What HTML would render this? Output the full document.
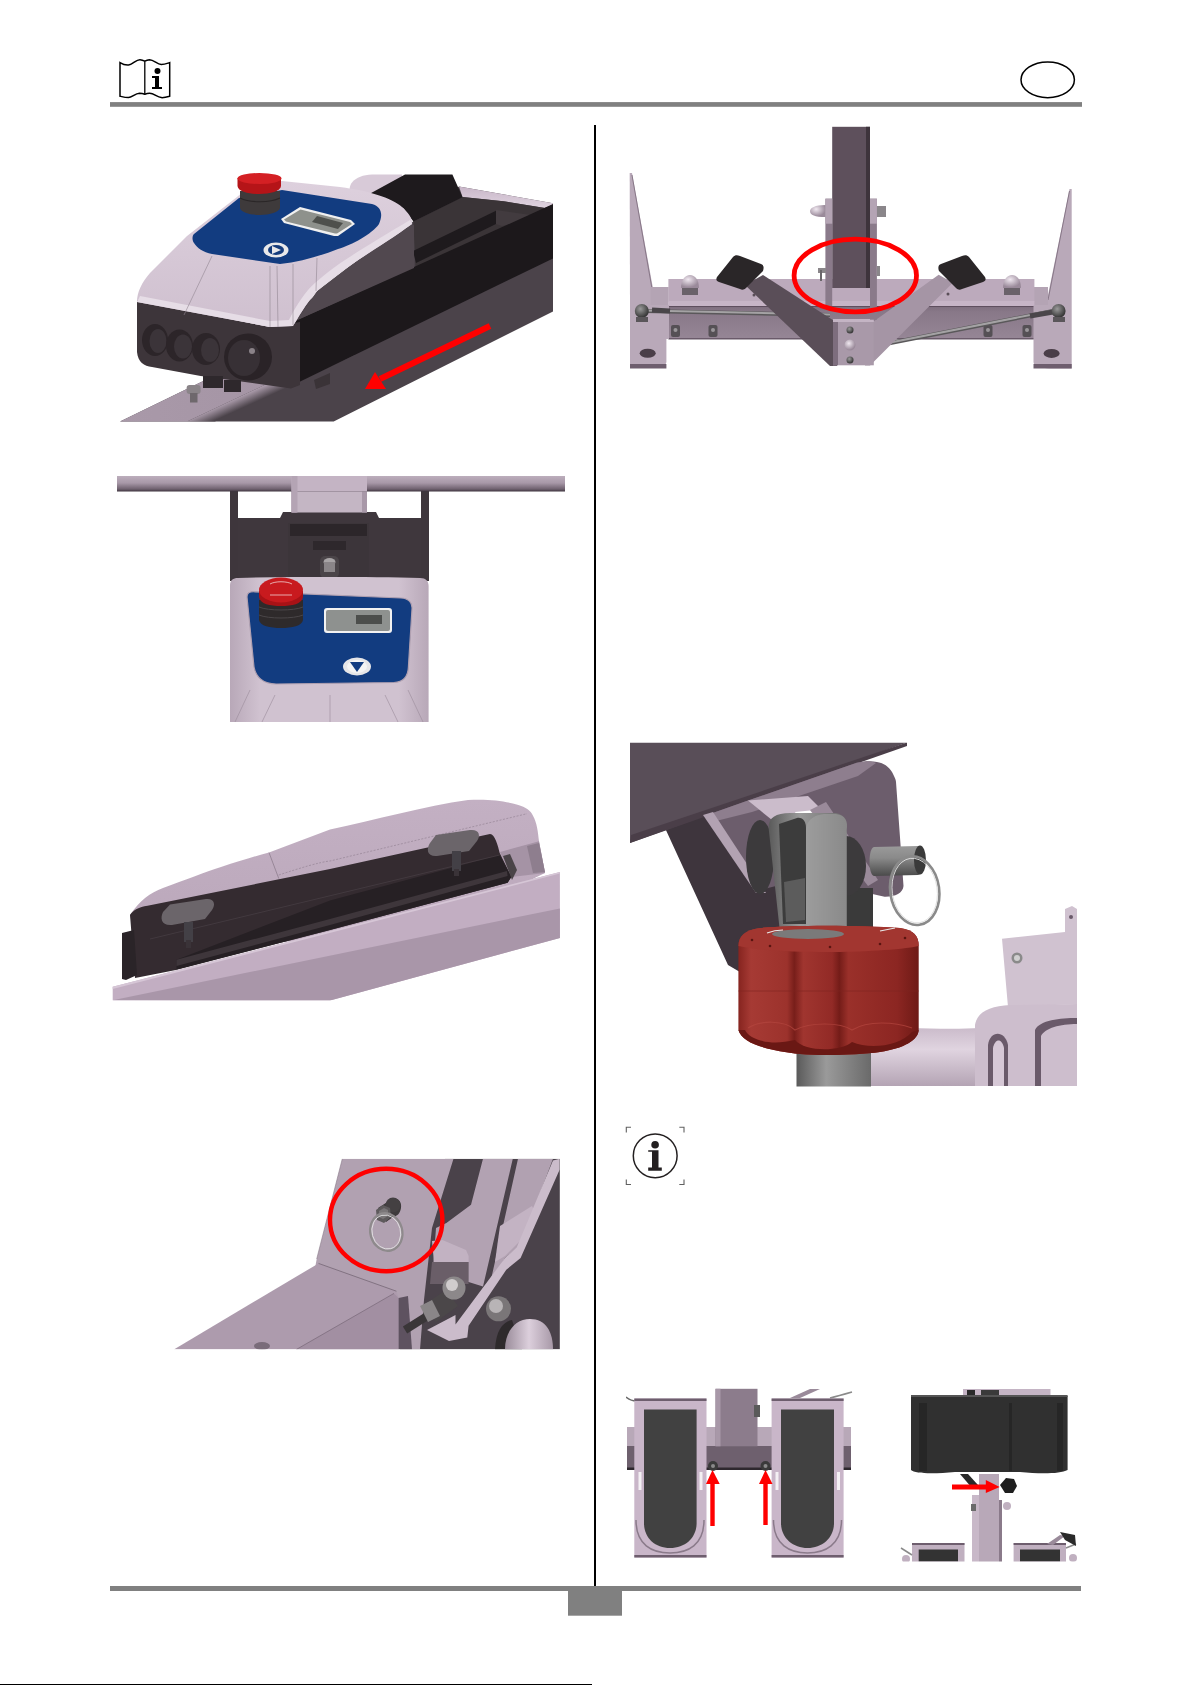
<!DOCTYPE html>
<html><head><meta charset="utf-8"><title>Manual page</title>
<style>
html,body{margin:0;padding:0;background:#fff;}
body{width:1191px;height:1685px;position:relative;overflow:hidden;font-family:"Liberation Sans",sans-serif;}
svg{position:absolute;left:0;top:0;}
</style></head>
<body>
<svg width="1191" height="1685" viewBox="0 0 1191 1685">
<!-- HEADER -->
<g id="header">
  <path d="M120,62.6 C123,64.5 126,65.2 128.5,65 C133,64.5 136,59.5 140,59.7 C142,59.8 143.5,60.5 144.8,61.2 C146,60.5 147.5,59.8 149.5,59.7 C154,59.7 157,64.5 161.3,64.6 C164,64.6 167,63.5 169.7,62.6 L169.7,96.2 C167,97 164,97.8 161.3,97.6 C157,97.4 154,93.2 149.5,93.3 C147.5,93.4 146,93.8 144.8,94.2 C143.5,93.8 142,93.4 139.5,93.3 C135,93.4 132,97.6 128.5,97.6 C125.5,97.6 122.5,96.8 120,96.2 Z" fill="none" stroke="#000" stroke-width="1.5"/>
  <path d="M144.8,61.2 L144.8,94.2" fill="none" stroke="#000" stroke-width="1.3"/>
  <circle cx="157.5" cy="71" r="3" fill="#000"/>
  <path d="M152,76 L159,76 L159,87 L162,87 L162,89 L152,89 L152,87 L155,87 L155,78 L152,78 Z" fill="#000"/>
  <rect x="110" y="102.1" width="972" height="4.7" fill="#808080"/>
  <ellipse cx="1047.7" cy="79.8" rx="26.7" ry="17.9" fill="none" stroke="#000" stroke-width="1.5"/>
</g>
<!-- IMAGE 1 -->
<g id="img1">
  <defs>
    <linearGradient id="g1top" x1="0" y1="0" x2="0" y2="1">
      <stop offset="0" stop-color="#ddd0dd"/><stop offset="1" stop-color="#cfc0cf"/>
    </linearGradient>
    <linearGradient id="g1rail" x1="120" y1="0" x2="360" y2="0" gradientUnits="userSpaceOnUse">
      <stop offset="0" stop-color="#a999a9"/><stop offset="0.6" stop-color="#a595a5"/><stop offset="1" stop-color="#8a7c8a"/>
    </linearGradient>
    <linearGradient id="g1edge" x1="200" y1="414" x2="205" y2="425" gradientUnits="userSpaceOnUse">
      <stop offset="0" stop-color="#b0a0b0"/><stop offset="1" stop-color="#4b434a"/>
    </linearGradient>
    <linearGradient id="g1strip" x1="0" y1="0" x2="0" y2="1">
      <stop offset="0" stop-color="#c8b6c8"/><stop offset="1" stop-color="#e0d4e0"/>
    </linearGradient>
  </defs>
  <!-- rail silhouette (front face dark) -->
  <polygon points="120,421.6 333.7,421.6 553,311.4 553,203.3 459,186.5 202.7,381.3" fill="#4b434a"/>
  <!-- rail top face bottom-left -->
  <polygon points="120,421.6 187,421.6 345,347 345,338 202.7,381.3" fill="url(#g1rail)"/>
  <polygon points="187,421.6 215,421.6 355,355 345,347" fill="url(#g1edge)"/>
  <!-- pink top strip of rail right -->
  <polygon points="459,186.5 553,203.3 553,205 545,208 503.4,201.3 462.5,197" fill="url(#g1strip)"/>
  <!-- cylinder behind -->
  <path d="M352,196 C345,186 354,175 372,174.5 L402,174.5 L402,197 Z" fill="#d8cad8"/>
  <!-- ledge mid-dark -->
  <polygon points="413.4,221.4 462.5,197 503.4,201.3 545,208 553,204.6 553,215 416,280" fill="#3a3437"/>
  <!-- slot interior black -->
  <polygon points="413,251 496,210.7 496,224 416,263" fill="#1e1a1d"/>
  <polygon points="496,210 529,214.7 534,218.7 502,226 496,224" fill="#423b3f"/>
  <!-- black top block -->
  <polygon points="362,198 405,174.5 452.4,174.5 462.5,197.2 413.4,221.4 403,208" fill="#1e1a1d"/>
  <!-- black band -->
  <polygon points="293,322 414,267 553,204 553,258.4 291,386" fill="#1c181b"/>
  <!-- housing side face -->
  <polygon points="293,326 317,291 351,265 405,226 414,225 414,268 293,322" fill="#51484f"/>
  <!-- dark base -->
  <path d="M137,300 L137,352 C138,362 144,366 152,367 L200.7,376 L291,388.4 L300,385 L300,322 L270,327 Z" fill="#3d353a"/>
  <!-- holes -->
  <ellipse cx="155" cy="340" rx="13" ry="16" fill="#2c2529"/>
  <ellipse cx="158" cy="341" rx="8.5" ry="12" fill="#3b3439"/>
  <ellipse cx="179.5" cy="345.5" rx="13.5" ry="16" fill="#2c2529"/>
  <ellipse cx="183" cy="346.5" rx="9" ry="12" fill="#3b3439"/>
  <ellipse cx="206" cy="349" rx="14" ry="16" fill="#2c2529"/>
  <ellipse cx="210" cy="350" rx="9" ry="12" fill="#3b3439"/>
  <ellipse cx="248" cy="357" rx="24" ry="23.6" fill="#2a2327"/>
  <ellipse cx="244" cy="358" rx="16" ry="18" fill="#373035"/>
  <circle cx="252" cy="351" r="3" fill="#8a8288"/>
  <!-- feet under base -->
  <rect x="203" y="376" width="20" height="12" fill="#2e282c"/>
  <rect x="224" y="380" width="17" height="12" fill="#2e282c"/>
  <polygon points="314,380 330,373 330,384 316,389" fill="#3a3337"/>
  <!-- bolt -->
  <rect x="186.6" y="385" width="14" height="9" rx="3" fill="#8a8488"/>
  <rect x="190" y="393" width="7.5" height="9.5" fill="#6e686c"/>
  <!-- housing pink -->
  <path d="M137,302 C137,292 142,282 150,273 L187,236 L237,197 C244,190 262,183 282,181 L340,187 C370,191 392,198 402,207 C409,213 413,220 412,224 C390,240 365,255 351,265 C335,276 322,287 317,291 C305,305 298,318 293,326 L270,327 Z" fill="url(#g1top)"/>
  <!-- housing front lighter rim -->
  <path d="M137,302 L270,327 L293,326 C298,318 305,305 317,291 C322,287 335,276 351,265 C365,255 390,240 412,224 L410,220 C388,233 360,250 345,260 C330,270 315,282 308,290 C298,302 292,314 289,320 L270,321 L140,296 Z" fill="#e6dde6"/>
  <line x1="212" y1="256" x2="184" y2="315" stroke="#928692" stroke-width="0.6"/>
  <line x1="270" y1="266" x2="270" y2="327" stroke="#928692" stroke-width="0.6"/>
  <line x1="277" y1="266" x2="278" y2="327" stroke="#928692" stroke-width="0.6"/>
  <line x1="293" y1="264" x2="293" y2="325" stroke="#928692" stroke-width="0.6"/>
  <line x1="317" y1="258" x2="316" y2="291" stroke="#928692" stroke-width="0.6"/>
  <!-- blue panel -->
  <path d="M194,234 L239,198 L282,190 L372,204 C382,207 383,215 379,224 C372,234 352,245 338,249 C320,256 300,262 280,264 L212,254 C203,252 197,248 194,243 C192,240 192,236 194,234 Z" fill="#123c80"/>
  <!-- LCD -->
  <polygon points="300,207 351,220 355,224 338,236 334,236 284,223 281,219" fill="#f0f0f0"/>
  <polygon points="300.5,209.5 350,222 352,224 337,233.5 335,233.5 286,221.5 284,219.5" fill="#8e918c"/>
  <polygon points="317,216 343,223 338,229 312,222" fill="#4e504c"/>
  <!-- start button -->
  <ellipse cx="276" cy="250" rx="12.5" ry="7.5" fill="#e9e9ea"/>
  <ellipse cx="276" cy="250" rx="8" ry="5" fill="#153c7c"/>
  <polygon points="272,246 281,250 272,254" fill="#e9e9ea"/>
  <!-- e-stop -->
  <path d="M240,191 L240,208 C241,213 252,215 260,215 C270,215 279,212 280,208 L280,191 Z" fill="#3e3a3b"/>
  <path d="M240,198 C250,203 270,203 280,198" fill="none" stroke="#2a2627" stroke-width="1.2"/>
  <path d="M237.5,178 L237.5,186 C238,192 250,194 259,194 C270,194 281,191 281,186 L281,178 Z" fill="#b51418"/>
  <ellipse cx="259.5" cy="178.5" rx="22" ry="5.5" fill="#d42024"/>
  <!-- arrow -->
  <line x1="490" y1="326" x2="380" y2="379" stroke="#ff0000" stroke-width="6"/>
  <polygon points="365,389 375,372 386,389" fill="#ff0000"/>
</g>
<!-- IMAGE 2 -->
<g id="img2">
  <defs>
    <linearGradient id="g2bar" x1="0" y1="0" x2="0" y2="1">
      <stop offset="0" stop-color="#bcaebc"/><stop offset="0.45" stop-color="#a898a8"/><stop offset="0.85" stop-color="#6e606e"/><stop offset="1" stop-color="#3e343e"/>
    </linearGradient>
    <linearGradient id="g2house" x1="0" y1="0" x2="1" y2="0">
      <stop offset="0" stop-color="#b8a8b8"/><stop offset="0.15" stop-color="#d0c2d0"/><stop offset="0.85" stop-color="#d0c2d0"/><stop offset="1" stop-color="#b8a8b8"/>
    </linearGradient>
  </defs>
  <!-- side arms -->
  <rect x="230" y="491" width="8" height="90" fill="#3e363c"/>
  <rect x="421" y="491" width="8" height="90" fill="#3e363c"/>
  <!-- back panel -->
  <path d="M237.5,518 L280,518 L283,512 L376,512 L379,518 L421,518 L421,581 L237.5,581 Z" fill="#3f373d"/>
  <rect x="288" y="523" width="81" height="56" fill="#3c353a"/>
  <rect x="290" y="524" width="77" height="12" fill="#2c262a"/>
  <rect x="313" y="541" width="33" height="9" fill="#2e282c"/>
  <!-- bolt -->
  <rect x="320" y="556" width="19" height="22" rx="5" fill="#4a4448"/>
  <ellipse cx="329.5" cy="562" rx="6" ry="4" fill="#a8a4a6"/>
  <rect x="324" y="562" width="11" height="10" fill="#8a8588"/>
  <!-- post -->
  <rect x="291.5" y="476" width="75.5" height="36.5" fill="#c4b6c4"/>
  <rect x="291.5" y="476" width="5" height="36.5" fill="#a898a8"/>
  <rect x="362" y="476" width="5" height="36.5" fill="#a898a8"/>
  <!-- bar -->
  <rect x="117" y="476" width="448" height="15.5" fill="url(#g2bar)"/>
  <rect x="291.5" y="476" width="75.5" height="15.5" fill="#c4b4c4"/><rect x="291.5" y="476" width="6" height="36.5" fill="#b4a4b4"/>
  <!-- housing -->
  <path d="M230,722 L230,586 C230,580 233,578 238,578 C270,577 300,577 330,577 C360,577 395,577 420,578 C426,578 428.6,581 428.6,586 L428.6,722 Z" fill="url(#g2house)"/>
  <line x1="250" y1="690" x2="235" y2="722" stroke="#9a8c9a" stroke-width="0.6"/>
  <line x1="275" y1="695" x2="262" y2="722" stroke="#9a8c9a" stroke-width="0.6"/>
  <line x1="330" y1="695" x2="330" y2="722" stroke="#9a8c9a" stroke-width="0.6"/>
  <line x1="385" y1="695" x2="398" y2="722" stroke="#9a8c9a" stroke-width="0.6"/>
  <line x1="408" y1="690" x2="423" y2="722" stroke="#9a8c9a" stroke-width="0.6"/>
  <!-- blue panel -->
  <path d="M247,597 C247,593 249,591.5 255,591.8 L401,598 C409,598.5 412.5,603 412,609 L408.4,667 C408,677 403,682 394,682.5 L276,684 C262,683.5 256,677 254,667 Z" fill="#123c80"/>
  <path d="M247,597 C247,593 249,591.5 255,591.8 L401,598 C409,598.5 412.5,603 412,609 L408.4,667 C408,677 403,682 394,682.5 L276,684 C262,683.5 256,677 254,667 Z" fill="none" stroke="#b0a0b0" stroke-width="1.2"/>
  <!-- LCD -->
  <rect x="324" y="608" width="68" height="25" rx="3" fill="#f2f2f2"/>
  <rect x="326" y="610" width="64" height="21" rx="2" fill="#8e918f"/>
  <rect x="356" y="615" width="26" height="9" fill="#4c4e4c"/>
  <!-- down button -->
  <ellipse cx="357" cy="666.5" rx="14" ry="9" fill="#e6e6e8"/>
  <ellipse cx="357" cy="666.5" rx="10" ry="6.5" fill="#f4f4f4"/>
  <polygon points="350,662 364,662 357,672" fill="#123c80"/>
  <!-- e-stop base -->
  <path d="M259,600 L259,620 C260,626 270,628 281,628 C292,628 302,626 303,620 L303,600 Z" fill="#2e2a2b"/>
  <path d="M259,607 C268,611 294,611 303,607" fill="none" stroke="#4a4648" stroke-width="1"/>
  <path d="M259,615 C268,619 294,619 303,615" fill="none" stroke="#4a4648" stroke-width="1"/>
  <!-- e-stop -->
  <path d="M259,591 L259,597 C260,604 270,606 281,606 C292,606 302,604 303,597 L303,591 Z" fill="#a81216"/>
  <ellipse cx="281" cy="590" rx="22" ry="12.5" fill="#c81a1e"/>
  <path d="M270,584 C275,581 287,581 292,584" fill="none" stroke="#f0d0d0" stroke-width="0.8"/>
  <path d="M270,595 L292,595" fill="none" stroke="#f0d0d0" stroke-width="0.8"/>
</g>
<!-- IMAGE 3 -->
<g id="img3">
  <defs>
    <linearGradient id="g3house" x1="0" y1="0" x2="0" y2="1">
      <stop offset="0" stop-color="#c3b0c3"/><stop offset="1" stop-color="#b9a6b9"/>
    </linearGradient>
    <clipPath id="c3"><rect x="110" y="795" width="451" height="205.5"/></clipPath>
  </defs>
  <g clip-path="url(#c3)">
  <!-- housing top (pink) -->
  <path d="M130,915 C140,900 150,893 163,888 C185,880 205,872 221,867 C240,861 255,856 269,852.6 L330,829.5 C375,820 425,806 468,800 C490,799 505,801 517.5,804.8 C526,807 531,811 533,815.7 C537,823 538,832 539,841.3 L545,872.9 L500,895 L300,940 L140,960 Z" fill="url(#g3house)"/>
  <path d="M269,852.6 L278.8,878.6" stroke="#8e7e8e" stroke-width="0.8"/>
  <path d="M278.8,875 C300,868 320,862 330,861 L527,813.7" fill="none" stroke="#8e7e8e" stroke-width="0.6" stroke-dasharray="2,1.5"/>
  <!-- right side of housing -->
  <polygon points="500,852 539,841.3 545,872.9 511.5,877" fill="#a593a5"/>
  <polygon points="527,846 539,843 545,872 533,873" fill="#8e7e8e"/>
  <!-- dark battery box -->
  <path d="M130,915 C133,910 139,907 147.5,905.7 L330,869 L428.7,847.2 L490,834 C495,834 498,846 499.7,853 L511.5,876.8 L507.6,882.7 L330,930 L176,970 L135,978 Z" fill="#342b30"/>
  <polygon points="176.5,959.7 330,900.5 499.7,855 507.6,870 511.5,876.8 507.6,882.7 330,930 176.5,969.4" fill="#262024"/>
  <polygon points="176.5,959.7 330,919 507,871 507.6,876 330,925 176.5,966" fill="#3e363b"/>
  <line x1="150" y1="939" x2="499.7" y2="855" stroke="#443b41" stroke-width="0.9"/>
  <!-- end caps -->
  <polygon points="122,933 134,930 137,975 126,980 122,979" fill="#2a2428"/>
  <polygon points="503,856 510,854 517,870 512,880" fill="#4a4448"/>
  <!-- pads -->
  <path d="M170,904.5 L206,899 C214,898 216,904 212,910 L205,919 L172,925 C161,926 160,918 163,912 Z" fill="#6b656a"/>
  <rect x="184" y="922" width="9" height="20" fill="#434046"/>
  <rect x="186" y="940" width="5" height="8" fill="#3a3338"/>
  <path d="M436,835 L470,830 C479,829 481,835 477,841 L469,851 L437,856 C427,857 426,849 430,843 Z" fill="#6b656a"/>
  <rect x="452" y="851" width="9" height="20" fill="#434046"/>
  <rect x="454" y="869" width="5" height="7" fill="#3a3338"/>
  <!-- rail -->
  <polygon points="112.7,986.8 559.9,871.9 559.9,938 330,1000.5 112.7,1000.5" fill="#c2aec2"/>
  <polygon points="112.7,1000.3 559.9,908.4 559.9,938 330,1000.5" fill="#a996a9"/>
  <polygon points="112.7,986.8 559.9,871.9 559.9,873.5 112.7,989" fill="#d6c6d6"/>
  </g>
</g>
<!-- IMAGE 4 -->
<g id="img4">
  <defs>
    <clipPath id="c4"><rect x="170" y="1158.8" width="389.8" height="190.5"/></clipPath>
    <linearGradient id="g4cap" x1="0" y1="0" x2="1" y2="0">
      <stop offset="0" stop-color="#9a8c9a"/><stop offset="0.5" stop-color="#dccfdc"/><stop offset="1" stop-color="#a899a8"/>
    </linearGradient>
  </defs>
  <g clip-path="url(#c4)">
  <!-- dark background right -->
  <polygon points="445,1158.8 560,1158.8 560,1349.5 400,1349.5 415,1260" fill="#4a424a"/>
  <!-- plate (pink) -->
  <polygon points="342.3,1158.8 453.5,1158.8 432,1228 424,1300 420,1349.5 300,1349.5 316.7,1259" fill="#b1a1b1"/>
  <!-- pink Y region -->
  <polygon points="483,1158.8 512.8,1158.8 483,1286.6 468.6,1282 432,1282 436,1228 446.4,1222.9 471,1204.7" fill="#b2a2b2"/>
  <!-- pink right region -->
  <polygon points="518,1158.8 553,1158.8 520.6,1245 505,1258 490,1284" fill="#b1a1b1"/>
  <polygon points="500,1226 532,1206 535,1212 521,1240 505,1256 495,1262 498,1240" fill="#c3b3c3"/>
  <!-- tube block lower-left -->
  <polygon points="432,1241 442.5,1240 466,1250 468.6,1256 468.6,1262 434,1262" fill="#c2b2c2"/>
  <polygon points="432,1262 468.6,1262 468.6,1284 430,1284" fill="#6a5e68"/>
  <!-- rail top face -->
  <polygon points="173.9,1349.5 318.5,1263.4 396.4,1291.2 398.6,1297.9 398.6,1349.5" fill="#ad9bad"/>
  <polygon points="296.3,1349.5 394,1293.4 398.6,1297.9 398.6,1349.5" fill="#a28fa2"/>
  <polygon points="398.6,1297.9 408,1296 412,1349.5 398.6,1349.5" fill="#5e5260"/>
  <line x1="318.5" y1="1263.4" x2="396.4" y2="1291.2" stroke="#6e606e" stroke-width="0.7"/>
  <line x1="296.3" y1="1349.5" x2="394" y2="1293.4" stroke="#6e606e" stroke-width="0.6"/>
  <line x1="316.7" y1="1259" x2="342.3" y2="1158.8" stroke="#8a7a8a" stroke-width="0.6"/>
  <ellipse cx="262" cy="1346" rx="8" ry="4" fill="#7a6c7a"/>
  <!-- diagonal pink arm -->
  <polygon points="553,1160.4 559.7,1158.8 559.7,1169.5 520.6,1258 506.3,1269.7 468.6,1325.7 467.3,1337.4 449,1341 427,1330 455.5,1315 455.5,1324.4 505,1258 516.7,1247.6" fill="#cbbccb"/>
  <!-- ball joint and rod -->
  <line x1="405" y1="1330" x2="432" y2="1313" stroke="#3a3638" stroke-width="8"/>
  <polygon points="422,1306 446,1290 458,1306 436,1322" fill="#4b4749"/>
  <polygon points="420,1306 432,1300 440,1316 428,1322" fill="#8a8688"/>
  <circle cx="454" cy="1288" r="11.5" fill="#8c888a"/>
  <circle cx="452" cy="1285" r="6" fill="#d0cccd"/>
  <!-- nut + cap right -->
  <circle cx="498.5" cy="1308.8" r="12.5" fill="#7a7678"/>
  <circle cx="496" cy="1306" r="7" fill="#b8b4b6"/>
  <path d="M495,1349.5 C496,1330 503,1322 512,1320 L522,1349.5 Z" fill="#2e2a2c"/>
  <path d="M505,1349.5 C505,1332 515,1319 530,1319 C546,1319 553,1332 553,1349.5 Z" fill="url(#g4cap)"/>
  <!-- pin -->
  <path d="M378,1208 L392,1199 C398,1197 402,1202 401,1208 C400,1214 397,1216 393,1217 L386,1222 Z" fill="#3e3a3c"/>
  <circle cx="393" cy="1205" r="7.5" fill="#444042"/>
  <polygon points="376,1210 383,1205 390,1208 391,1217 384,1223 377,1220" fill="#5e5a5c"/>
  <polygon points="379,1211 384,1208 388,1210 388,1216 383,1219 379,1217" fill="#7a7678"/>
  <ellipse cx="386.3" cy="1232" rx="16" ry="19" transform="rotate(-15 386.3 1232)" fill="none" stroke="#8e8a8c" stroke-width="2.2"/>
  <ellipse cx="386.3" cy="1232" rx="14.2" ry="17.2" transform="rotate(-15 386.3 1232)" fill="none" stroke="#e0dee0" stroke-width="0.9"/>
  </g>
  <!-- red circle -->
  <ellipse cx="386.2" cy="1220" rx="56.2" ry="51.2" fill="none" stroke="#ff0000" stroke-width="4.4"/>
</g>
<!-- IMAGE 5 -->
<g id="img5">
  <defs>
    <linearGradient id="g5front" x1="0" y1="0" x2="0" y2="1">
      <stop offset="0" stop-color="#7e6e7e"/><stop offset="0.15" stop-color="#887888"/><stop offset="1" stop-color="#968696"/>
    </linearGradient>
    <radialGradient id="g5ball" cx="0.4" cy="0.35" r="0.6">
      <stop offset="0" stop-color="#f0e8f0"/><stop offset="1" stop-color="#9a8a9a"/>
    </radialGradient>
    <radialGradient id="g5gball" cx="0.4" cy="0.35" r="0.6">
      <stop offset="0" stop-color="#9a9a9a"/><stop offset="1" stop-color="#3a3a3a"/>
    </radialGradient>
  </defs>
  <!-- legs blades -->
  <polygon points="629.7,173 632,173 656,305 630,305" fill="#b9a9b9"/>
  <polygon points="1071.7,189 1069.5,189 1046,305 1071.7,305" fill="#b9a9b9"/>
  <line x1="632" y1="175" x2="654" y2="300" stroke="#7a6a7a" stroke-width="0.8"/>
  <line x1="1069.5" y1="191" x2="1048" y2="300" stroke="#7a6a7a" stroke-width="0.8"/>
  <!-- end caps -->
  <rect x="650.7" y="287" width="18" height="18" fill="#b4a4b4"/>
  <rect x="1033" y="287" width="15" height="18" fill="#b4a4b4"/>
  <!-- bar -->
  <rect x="668.4" y="279" width="366" height="23" fill="#bcaabc"/>
  <rect x="668.4" y="301" width="366" height="5" fill="#c6b4c6"/>
  <rect x="668.4" y="306" width="366" height="1.2" fill="#5e4e5e"/>
  <rect x="668.4" y="307" width="366" height="31.5" fill="url(#g5front)"/>
  <rect x="668.4" y="338" width="366" height="1.5" fill="#6a5a6a"/>
  <!-- foot plates -->
  <path d="M630,305 L669,305 L669,339 L666.4,339 L666.4,362 C666,366 660,368 650,368 L630,368 Z" fill="#b9a9b9"/>
  <rect x="630" y="364" width="36.4" height="4.5" fill="#6e5e6e"/>
  <ellipse cx="647.7" cy="353.3" rx="8" ry="4.5" fill="#4a3e48"/>
  <path d="M1033.5,305 L1071.7,305 L1071.7,368.5 L1050,368.5 C1040,368 1033.5,366 1033.5,362 Z" fill="#b9a9b9"/>
  <rect x="1033.5" y="364" width="38.2" height="4.5" fill="#6e5e6e"/>
  <ellipse cx="1051.6" cy="353.4" rx="8" ry="4.5" fill="#4a3e48"/>
  <!-- bolts on bar front -->
  <g fill="#555055">
    <rect x="671" y="325" width="9" height="12" rx="2"/><rect x="708.5" y="325" width="9" height="12" rx="2"/>
    <rect x="983.5" y="325" width="9" height="12" rx="2"/><rect x="1022.5" y="325" width="9" height="12" rx="2"/>
  </g>
  <g fill="#9a969a">
    <circle cx="675.5" cy="330" r="2"/><circle cx="713" cy="330" r="2"/><circle cx="988" cy="330" r="2"/><circle cx="1027" cy="330" r="2"/>
  </g>
  <!-- rods -->
  <line x1="645" y1="311" x2="830" y2="315" stroke="#5a585a" stroke-width="4"/><line x1="645" y1="310.5" x2="830" y2="314.5" stroke="#a4a2a4" stroke-width="2"/>
  <line x1="652" y1="310" x2="670" y2="311" stroke="#4a464a" stroke-width="5"/>
  <line x1="1058" y1="310" x2="870" y2="347" stroke="#5a585a" stroke-width="4"/><line x1="1058" y1="309.5" x2="870" y2="346.5" stroke="#a4a2a4" stroke-width="2"/>
  <line x1="1053" y1="312" x2="1030" y2="316" stroke="#4a464a" stroke-width="5"/>
  <circle cx="641.8" cy="311" r="7" fill="url(#g5gball)"/>
  <circle cx="1058.6" cy="311" r="7" fill="url(#g5gball)"/>
  <rect x="636" y="317" width="12" height="5" fill="#5a565a"/>
  <rect x="1053" y="317" width="12" height="5" fill="#5a565a"/>
  <!-- acorn nuts -->
  <path d="M681,288 C681,280 685,275 690,275 C695,275 699,280 699,288 Z" fill="url(#g5ball)"/>
  <rect x="682" y="288" width="16" height="7" fill="#6a626a"/>
  <path d="M1003,288 C1003,280 1007,275 1012,275 C1017,275 1021,280 1021,288 Z" fill="url(#g5ball)"/>
  <rect x="1004" y="288" width="16" height="7" fill="#6a626a"/>
  <circle cx="754" cy="295" r="1.5" fill="#5a4e58"/><circle cx="948" cy="294" r="1.5" fill="#5a4e58"/>
  <!-- V arms -->
  <polygon points="745,285 763,275 837,322.7 837,366 830,366" fill="#5a4e58"/>
  <polygon points="938.7,274.8 952.8,282.8 870,365.5 865,365.5 865,321 874.3,321" fill="#a595a5"/>
  <!-- center block -->
  <rect x="833" y="321.3" width="40.8" height="44" fill="#a999a9"/>
  <rect x="833" y="321.3" width="5" height="44" fill="#7e6e7e"/>
  <rect x="833" y="319" width="40.8" height="3" fill="#c4b4c4"/>
  <circle cx="850" cy="330" r="3.5" fill="url(#g5gball)"/>
  <circle cx="850" cy="345" r="5.5" fill="url(#g5ball)"/>
  <circle cx="850" cy="360" r="3.5" fill="url(#g5gball)"/>
  <!-- pedals -->
  <path d="M717,277 L733,257 C735,255 737,255 740,256 L761,264 C764,265 764,268 763,271 L746,288 C744,290 742,290 740,289 L719,282 C716,281 716,279 717,277 Z" fill="#2a2628"/>
  <path d="M985,277 L969,257 C967,255 965,255 962,256 L941,264 C938,265 938,268 939,271 L956,288 C958,290 960,290 962,289 L983,282 C986,281 986,279 985,277 Z" fill="#2a2628"/>
  <!-- post -->
  <rect x="832.2" y="126.8" width="37.8" height="161.2" fill="#5e505c"/>
  <rect x="866" y="126.8" width="4" height="161.2" fill="#3e343c"/>
  <!-- brackets -->
  <rect x="825.4" y="198.7" width="6.8" height="107.5" fill="#8a7a8a"/>
  <rect x="825.4" y="198.7" width="6.8" height="25" fill="#b4a4b4"/>
  <rect x="870" y="198.7" width="6.9" height="121" fill="#8a7a8a"/>
  <rect x="870" y="198.7" width="6.9" height="25" fill="#b4a4b4"/>
  <path d="M825.4,205 C815,205 810,208 810,211 C810,215 815,217 825.4,217 Z" fill="url(#g5ball)"/>
  <rect x="877" y="206" width="9" height="11" fill="#8a868a"/>
  <rect x="818" y="268" width="8" height="5" fill="#8a868a"/>
  <rect x="820" y="270" width="2" height="11" fill="#6a666a"/>
  <rect x="877" y="266" width="3" height="10" fill="#8a868a"/>
  <!-- red ellipse -->
  <ellipse cx="855.3" cy="275.5" rx="61.2" ry="36.3" fill="none" stroke="#ff0000" stroke-width="4.8"/>
</g>
<!-- IMAGE 6 -->
<g id="img6">
  <defs>
    <clipPath id="c6"><rect x="630" y="742.5" width="447" height="344"/></clipPath>
    <linearGradient id="g6knob" x1="0" y1="0" x2="1" y2="0">
      <stop offset="0" stop-color="#86241f"/><stop offset="0.07" stop-color="#a63a34"/><stop offset="0.27" stop-color="#9c322c"/><stop offset="0.31" stop-color="#781e1a"/><stop offset="0.36" stop-color="#a0352f"/><stop offset="0.52" stop-color="#922a26"/><stop offset="0.56" stop-color="#741c18"/><stop offset="0.61" stop-color="#9a302a"/><stop offset="0.88" stop-color="#8c2622"/><stop offset="1" stop-color="#6e1a16"/>
    </linearGradient>
    <linearGradient id="g6gray" x1="0" y1="0" x2="1" y2="0">
      <stop offset="0" stop-color="#5a5a5a"/><stop offset="0.4" stop-color="#9a9a9a"/><stop offset="1" stop-color="#6a6a6a"/>
    </linearGradient>
    <linearGradient id="g6tube" x1="0" y1="0" x2="0" y2="1">
      <stop offset="0" stop-color="#c8b8c8"/><stop offset="0.4" stop-color="#e0d4e0"/><stop offset="1" stop-color="#b4a4b4"/>
    </linearGradient>
    <linearGradient id="g6pin" x1="0" y1="0" x2="0" y2="1">
      <stop offset="0" stop-color="#9a9a9a"/><stop offset="0.4" stop-color="#8a8a8a"/><stop offset="1" stop-color="#4a4a4a"/>
    </linearGradient>
  </defs>
  <g clip-path="url(#c6)">
  <!-- dark under-bracket -->
  <polygon points="665,828 705.6,815.6 750,870 780,870 790,941 745,975 728,965" fill="#3e353d"/>
  <!-- top plate -->
  <polygon points="630,742.5 907,742.5 630,843" fill="#594e58"/>
  <polygon points="630,843 631,835 907,742.5 907,746" fill="#4a3e48"/>
  <!-- bracket side face -->
  <path d="M705.6,815.6 L748,800.5 L856.7,762.7 C870,760 885,760 892,772 C895,778 896,780 896,782 L903.5,886 C903,893 895,897 884.6,896.8 L859,891 L800,880 L756,891 Z" fill="#6c5d6c"/>
  <!-- bracket light edges -->
  <path d="M705.6,815.6 L748,800.5 L856.7,762.7 C866,761 872,761 876,763 L858,776 L752,812 L712,822 Z" fill="#8e7e8e"/>
  <rect x="846" y="888" width="27" height="54" fill="#3a3a3a"/>
  <polygon points="703,815 713,812 766,893 756,893" fill="#b2a2b2"/>
  <polygon points="748,800.5 808,796 822,810 772,820" fill="#cbbccb"/>
  <polygon points="795,812 815,810 822,825 800,822" fill="#ffffff"/>
  <polygon points="810,810 826,802 878,880 868,886" fill="#9a8a9a"/>
  <!-- bushings -->
  <ellipse cx="760" cy="857" rx="14" ry="37" fill="#3c3a3c"/>
  <ellipse cx="846" cy="866" rx="20" ry="30" fill="#3c3a3c"/>
  <!-- clevis -->
  <path d="M768.6,828 C768,818 776,813 790,813 L836,813 C846,815 848,822 846.7,830 L846.7,941.5 L781,941.5 Z" fill="url(#g6gray)"/>
  <path d="M779,824 L797,818 C803,817 806,822 806,828 L806,924 L783,924 Z" fill="#3c3c3c"/>
  <path d="M784,882 L805,878 L805,920 L786,922 Z" fill="#5c5c5c"/>
  <path d="M806,830 C806,822 812,815 824,814 L836,814 C846,815 848,822 846.7,830 L846.7,941.5 L806,941.5 Z" fill="#a4a4a4" opacity="0.55"/>
  <!-- post -->
  <rect x="796.5" y="1050" width="74.5" height="40" fill="url(#g6gray)"/>
  <!-- tube -->
  <path d="M871,1025 C900,1028 950,1030 980,1028 L1077,1026 L1077,1086 L871,1086 Z" fill="url(#g6tube)"/>
  <!-- bracket plate right -->
  <polygon points="1002,938.7 1065,932 1065,909 1072,906 1077,909 1077,1004 1008,1007" fill="#d0c2d0"/>
  <circle cx="1017" cy="958" r="5.5" fill="#8a8a8a"/><circle cx="1017" cy="958" r="3" fill="#d0d0d0"/>
  <circle cx="1071" cy="917" r="2" fill="#6a5a6a"/>
  <!-- clamp -->
  <path d="M975,1086 L975,1025 C977,1012 990,1006 1010,1005 L1077,1004 L1077,1086 Z" fill="#cdbecd"/>
  <path d="M988,1086 L988,1045 C990,1030 1005,1030 1008,1045 L1008,1086 Z" fill="#6a5a6a"/>
  <path d="M993,1086 L993,1048 C995,1038 1002,1038 1004,1048 L1004,1086 Z" fill="#d6c8d6"/>
  <path d="M1035,1086 L1035,1030 C1040,1020 1060,1018 1077,1018 L1077,1024 C1060,1024 1045,1028 1041,1036 L1041,1086 Z" fill="#6a5a6a"/>
  <!-- knob -->
  <path d="M738.4,946 C738.4,936 745,930 760,928 C790,925 860,925 900,928 C914,930 918.7,936 918.7,946 L918.7,1030 C918,1040 905,1048 880,1052 C860,1055 820,1056 800,1054 C770,1051 742,1044 738.4,1030 Z" fill="url(#g6knob)"/>
  <path d="M738.4,946 C738.4,936 745,930 760,928 C790,925 860,925 900,928 C914,930 918.7,936 918.7,946 C900,950 860,952 828,952 C790,952 755,950 738.4,946 Z" fill="#a23630"/>
  <ellipse cx="808" cy="934" rx="36" ry="5" fill="#7a7a7a"/>
  <path d="M745,1030 C750,1040 770,1046 795,1040 C805,1052 840,1052 852,1042 C870,1050 900,1046 912,1032 L918.7,1030 C918,1040 905,1048 880,1052 C860,1055 820,1056 800,1054 C770,1051 742,1044 738.4,1030 Z" fill="#6a1814"/>
  <path d="M748,1028 C760,1020 785,1020 795,1030 C810,1022 840,1022 852,1030 C868,1020 895,1022 912,1028" fill="none" stroke="#b4463e" stroke-width="1.2" opacity="0.7"/>
  <line x1="738.4" y1="991" x2="918.7" y2="991" stroke="#7e2420" stroke-width="1" opacity="0.6"/>
  <circle cx="752" cy="940" r="1.3" fill="#5a1410"/><circle cx="770" cy="946" r="1.3" fill="#5a1410"/><circle cx="830" cy="947" r="1.3" fill="#5a1410"/><circle cx="880" cy="944" r="1.3" fill="#5a1410"/><circle cx="905" cy="938" r="1.3" fill="#5a1410"/>
  <path d="M767,933 C772,931 778,930 783,930" stroke="#e8e8e8" stroke-width="1.2" fill="none"/>
  <path d="M880,931 C885,930 890,929 895,928" stroke="#e8e8e8" stroke-width="1.2" fill="none"/>
  <!-- pin and ring -->
  <path d="M874,847 L918,846 C925,847 926,874 918,875 L874,876 C868,875 868,848 874,847 Z" fill="url(#g6pin)"/>
  <ellipse cx="920" cy="860" rx="6" ry="14.5" fill="#3a3a3a"/>
  <ellipse cx="914.7" cy="890.6" rx="24.5" ry="34.5" transform="rotate(-8 914.7 890.6)" fill="none" stroke="#8a8a8a" stroke-width="2.6"/>
  <ellipse cx="914.7" cy="890.6" rx="22.5" ry="32.5" transform="rotate(-8 914.7 890.6)" fill="none" stroke="#dcdcdc" stroke-width="0.9"/>
  </g>
</g>
<!-- IMAGE 7 info icon -->
<g id="img7">
  <path d="M626.3,1132.5 L626.3,1127.3 L631,1127.3 M679.3,1127.3 L684,1127.3 L684,1132.5 M626.3,1179.5 L626.3,1184.5 L631,1184.5 M679.3,1184.5 L684,1184.5 L684,1179.5" fill="none" stroke="#606060" stroke-width="1.1"/>
  <circle cx="655.2" cy="1155.8" r="21.9" fill="none" stroke="#231f20" stroke-width="1.5"/>
  <circle cx="655.1" cy="1144.8" r="3.8" fill="#231f20"/>
  <path d="M648.2,1150.3 L658.5,1150.3 L658.5,1167.6 L661.8,1167.6 L661.8,1170.7 L648.2,1170.7 L648.2,1167.6 L652,1167.6 L652,1151.8 L648.2,1151.8 Z" fill="#231f20"/>
</g>
<!-- IMAGE 8 left (foot plates) -->
<g id="img8a">
  <defs>
    <clipPath id="c8a"><rect x="626" y="1388" width="234" height="172"/></clipPath>
  </defs>
  <g clip-path="url(#c8a)">
  <!-- crossbar -->
  <rect x="627" y="1427" width="224" height="20" fill="#b8a8b8"/>
  <rect x="627" y="1446" width="224" height="24" fill="#6e606e"/>
  <rect x="627" y="1467.5" width="224" height="2.5" fill="#2e282e"/>
  <!-- post -->
  <rect x="715.5" y="1388.8" width="42" height="57.5" fill="#8c7c8c"/>
  <rect x="715.5" y="1388.8" width="5" height="57.5" fill="#a898a8"/>
  <rect x="754" y="1405" width="6" height="12" fill="#5a5a5a"/>
  <!-- cables top -->
  <path d="M626,1397 C630,1400 633,1401 636,1401" fill="none" stroke="#6a6a6a" stroke-width="1.5"/>
  <polygon points="790,1398 810,1389 820,1389 800,1398" fill="#9a8a9a"/>
  <path d="M830,1398 C838,1396 845,1394 852,1392" fill="none" stroke="#8a8a8a" stroke-width="1.5"/>
  <!-- nuts -->
  <circle cx="713" cy="1466" r="5" fill="#3a3a3a"/><circle cx="713" cy="1466" r="2" fill="#8a8a8a"/>
  <circle cx="765.5" cy="1466" r="5" fill="#3a3a3a"/><circle cx="765.5" cy="1466" r="2" fill="#8a8a8a"/>
  <!-- left footplate -->
  <rect x="634.3" y="1398.5" width="72.2" height="159" fill="#c9b6c9"/>
  <rect x="634.3" y="1398.5" width="72.2" height="2.5" fill="#6e5e6e"/>
  <rect x="634.3" y="1555" width="72.2" height="2.5" fill="#6e5e6e"/>
  <path d="M644,1409.4 L696.6,1409.4 L696.6,1523 C696.6,1538 685,1548 670,1548 C655,1548 644,1538 644,1523 Z" fill="#414141"/>
  <path d="M636,1520 C636,1545 652,1553 670,1553 C688,1553 704,1545 704,1520" fill="none" stroke="#8a7a8a" stroke-width="1.5"/>
  <rect x="638.5" y="1472" width="3" height="18" fill="#f4f0f4"/>
  <rect x="699.5" y="1472" width="3" height="18" fill="#f4f0f4"/>
  <!-- right footplate -->
  <rect x="771.6" y="1398.5" width="72" height="159" fill="#c9b6c9"/>
  <rect x="771.6" y="1398.5" width="72" height="2.5" fill="#6e5e6e"/>
  <rect x="771.6" y="1555" width="72" height="2.5" fill="#6e5e6e"/>
  <path d="M781,1409.4 L834,1409.4 L834,1523 C834,1538 822,1548 807.5,1548 C793,1548 781,1538 781,1523 Z" fill="#414141"/>
  <path d="M773.5,1520 C773.5,1545 790,1553 807.5,1553 C825,1553 841.5,1545 841.5,1520" fill="none" stroke="#8a7a8a" stroke-width="1.5"/>
  <rect x="775.5" y="1472" width="3" height="18" fill="#f4f0f4"/>
  <rect x="837" y="1472" width="3" height="18" fill="#f4f0f4"/>
  <!-- red arrows -->
  <rect x="710.3" y="1483" width="4.4" height="43" fill="#ff0000"/>
  <polygon points="706,1484 712.5,1470 719.7,1484" fill="#ff0000"/>
  <rect x="763.3" y="1483" width="4.4" height="42" fill="#ff0000"/>
  <polygon points="759,1484 765.5,1470 772.5,1484" fill="#ff0000"/>
  </g>
</g>
<!-- IMAGE 8 right (black pad) -->
<g id="img8b">
  <defs>
    <clipPath id="c8b"><rect x="900" y="1385" width="180" height="176.5"/></clipPath>
  </defs>
  <g clip-path="url(#c8b)">
  <!-- top stuff -->
  <rect x="963" y="1389" width="87.5" height="8" fill="#c4b4c4"/>
  <rect x="967" y="1390" width="8" height="5" fill="#2a2a2a"/>
  <rect x="981" y="1390" width="18" height="6" fill="#3a3a3a"/>
  <!-- post -->
  <rect x="979" y="1474" width="20" height="88" fill="#b8a8b8"/>
  <rect x="972" y="1495" width="7" height="67" fill="#c8b8c8"/>
  <rect x="999" y="1500" width="3" height="62" fill="#8a7a8a"/>
  <path d="M960,1474 L968,1474 L978,1485 L972,1488 Z" fill="#2a2a2a"/>
  <circle cx="1007" cy="1506" r="4" fill="#c0b0c0"/>
  <rect x="971" y="1504" width="5" height="7" fill="#6a6a6a"/>
  <!-- black pad -->
  <path d="M911,1396 L1067.6,1396 L1067.6,1470 C1060,1474 1040,1474 1020,1472 L955,1472 C935,1474 915,1474 911,1470 Z" fill="#303030"/>
  <rect x="911" y="1395" width="156.6" height="2" fill="#555555"/>
  <rect x="919" y="1403" width="8" height="68" fill="#262626"/>
  <rect x="1009" y="1403" width="3" height="68" fill="#262626"/>
  <rect x="1057" y="1403" width="6" height="68" fill="#262626"/>
  <!-- knob -->
  <path d="M1000,1485 L1006,1478 L1014,1479 L1017,1486 L1013,1493 L1005,1493 Z" fill="#1e1e1e"/>
  <!-- red arrow -->
  <rect x="952" y="1484.5" width="36" height="5" fill="#ff0000"/>
  <polygon points="985.8,1480 999.7,1487 985.8,1493" fill="#ff0000"/>
  <!-- bottom plates -->
  <rect x="912" y="1543" width="52.5" height="20" fill="#c0b0c0"/>
  <rect x="912" y="1543" width="52.5" height="2" fill="#6e5e6e"/>
  <rect x="918.7" y="1549.5" width="39.3" height="12" fill="#333333"/>
  <rect x="1013.6" y="1543" width="52.4" height="20" fill="#c0b0c0"/>
  <rect x="1013.6" y="1543" width="52.4" height="2" fill="#6e5e6e"/>
  <rect x="1020" y="1549.5" width="40" height="12" fill="#333333"/>
  <line x1="901" y1="1548" x2="912" y2="1555" stroke="#8a8a8a" stroke-width="1.5"/>
  <line x1="1066" y1="1548" x2="1076" y2="1544" stroke="#8a8a8a" stroke-width="1.5"/>
  <polygon points="1047,1544 1060,1535 1065,1536 1053,1545" fill="#9a8a9a"/>
  <path d="M1060,1532 L1075,1535 L1076,1546 L1065,1540 Z" fill="#2a2a2a"/>
  <circle cx="906" cy="1559" r="4" fill="#c0b0c0"/>
  <circle cx="1073" cy="1558" r="4" fill="#c0b0c0"/>
  </g>
</g>
<!-- COLUMN DIVIDER + FOOTER -->
<rect x="594" y="125" width="2" height="1462" fill="#000"/>
<rect x="110" y="1586" width="971" height="5" fill="#808080"/>
<rect x="568" y="1586" width="54" height="29.7" fill="#808080"/>
<rect x="0" y="1684" width="592" height="1" fill="#000"/>
</svg>
</body></html>
